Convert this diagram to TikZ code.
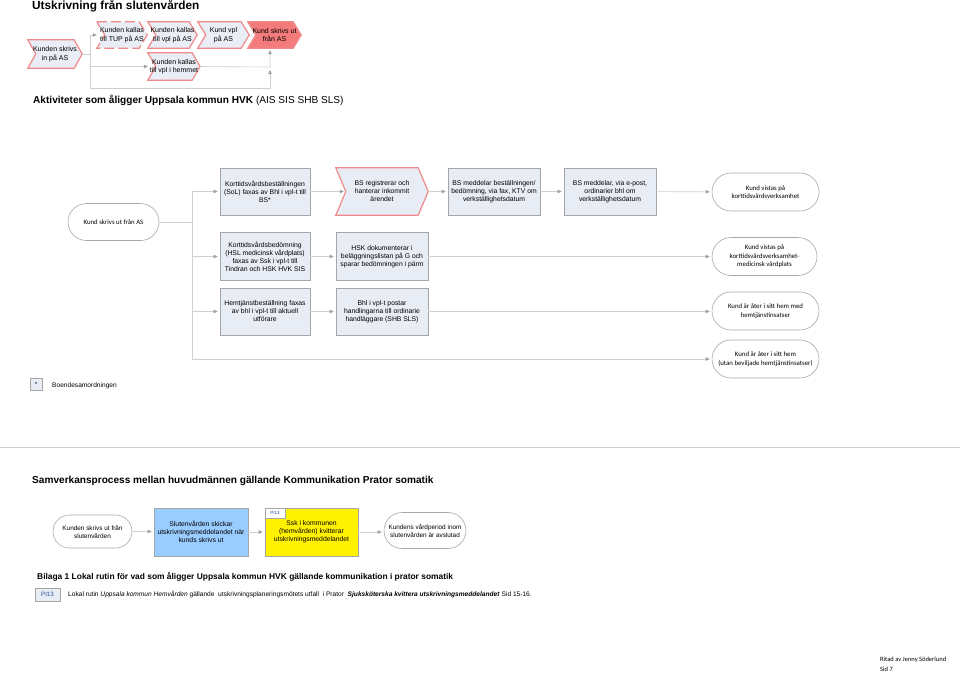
\documentclass[tikz,border=0pt]{standalone}
\usepackage{fontspec}
\setmainfont{Liberation Sans}
\newfontfamily\calfont{Carlito}
\usetikzlibrary{shapes.symbols,shapes.misc,arrows.meta,backgrounds}
\definecolor{boxfill}{HTML}{E8ECF5}
\definecolor{boxdraw}{HTML}{A6A6A6}
\definecolor{chevdraw}{HTML}{F08A8A}
\definecolor{chevfill}{HTML}{E9EDF5}
\definecolor{salmon}{HTML}{F47B7B}
\definecolor{conn}{HTML}{CFCFCF}
\definecolor{tipc}{HTML}{A0A0A0}
\definecolor{endraw}{HTML}{A8A8A8}
\definecolor{bluebox}{HTML}{99CCFF}
\definecolor{tagblue}{HTML}{2F4F9F}
\newcommand\chevbg[3]{%
  \begin{pgfonlayer}{background}
  \path[#3] (#1.north west) -- ([xshift=-#2]#1.north east) -- (#1.east) -- ([xshift=-#2]#1.south east)
    -- (#1.south west) -- ([xshift=#2]#1.west) -- cycle;
  \end{pgfonlayer}}
\tikzset{
  conline/.style={draw=conn, line width=0.6pt},
  flow/.style={conline, -{Triangle[length=4pt,width=3.5pt,color=tipc,fill=tipc]}, shorten >=2pt},
  pbox/.style={draw=boxdraw, fill=boxfill, line width=0.6pt, minimum width=90pt, minimum height=47pt,
    align=center, inner sep=1pt, font=\fontsize{6.8}{8}\selectfont},
  endnode/.style={rounded rectangle, draw=endraw, fill=white, line width=0.6pt, minimum width=109pt,
    minimum height=38pt, align=center, inner sep=1pt, font=\calfont\fontsize{6.8}{8.5}\selectfont},
  chevtext/.style={rectangle, minimum height=26pt, inner sep=0pt, align=center,
    font=\fontsize{7}{8.5}\selectfont},
  chevstyle/.style={draw=chevdraw, fill=chevfill, line width=1.2pt, line join=miter},
  heading/.style={anchor=west, inner sep=0pt, font=\bfseries\fontsize{10.1}{12}\selectfont}
}
\begin{document}
\begin{tikzpicture}[x=1pt,y=-1pt]
\useasboundingbox (0,0) rectangle (960,672);
% title
\node[anchor=west, inner sep=0pt, font=\bfseries\fontsize{11.8}{13}\selectfont] (title) at (32,6) {Utskrivning från slutenvården};
% top chevrons
\node[chevtext, minimum width=54pt, minimum height=28pt] (c1) at (55,54) {Kunden skrivs\\in på AS};
\node[chevtext, minimum width=50pt] (c2) at (122,35) {Kunden kallas\\till TUP på AS};
\node[chevtext, minimum width=49pt] (c3) at (172.5,35) {Kunden kallas\\till vpl på AS};
\node[chevtext, minimum width=51pt] (c4) at (223.5,35) {Kund vpl\\på AS};
\node[chevtext, minimum width=53pt] (c5) at (274.5,35) {Kund skrivs ut\\från AS};
\node[chevtext, minimum width=52pt, minimum height=27pt] (c6) at (174,66.5) {Kunden kallas\\till vpl i hemmet};
\chevbg{c1}{8pt}{chevstyle}
\chevbg{c2}{8pt}{chevstyle, dash pattern=on 10pt off 4pt}
\chevbg{c3}{8pt}{chevstyle}
\chevbg{c4}{8pt}{chevstyle}
\chevbg{c5}{8pt}{chevstyle, fill=salmon}
\chevbg{c6}{8pt}{chevstyle}
\coordinate (tj) at (90,54);
\coordinate (tjtop) at (90,35);
\coordinate (tjbot) at (90,88);
\coordinate (rbot) at (270,88);
\coordinate (rmid) at (270,67);
\coordinate (rarr) at (270,68);
\draw[conline] (c1.east) -- (tj);
\draw[conline] (tjtop) -- (tjbot);
\draw[flow] (tjtop) -- ([xshift=2pt]c2.west);
\draw[flow] (tjtop |- c6) -- ([xshift=2pt]c6.west);
\draw[flow] (c6.east) -- (rmid) -- (c5.south -| rmid);
\draw[flow] (tjbot) -- (rbot) -- (rarr);
% heading 1
\node[heading] (h1) at (33,100) {Aktiviteter som åligger Uppsala kommun HVK \mdseries(AIS SIS SHB SLS)};
% start node
\node[endnode, minimum width=93pt, minimum height=37pt] (start) at (113.5,222) {Kund skrivs ut från AS};
% row 1
\node[pbox] (b11) at (265,191.5) {Korttidsvårdsbeställningen\\(SoL) faxas av Bhl i vpl-t till\\BS*};
\node[rectangle, minimum width=92pt, minimum height=47pt, inner sep=0pt, align=center, font=\fontsize{6.8}{8}\selectfont] (b12) at (382,191.5) {BS registrerar och\\hanterar inkommit\\ärendet};
\chevbg{b12}{10pt}{chevstyle, fill=boxfill}
\node[pbox, minimum width=92pt] (b13) at (494,191.5) {BS meddelar beställningen/\\bedömning, via fax, KTV om\\verkställighetsdatum};
\node[pbox, minimum width=92pt] (b14) at (610,191.5) {BS meddelar, via e-post,\\ordinarier bhl om\\verkställighetsdatum};
\node[endnode] (e1) at (765.5,192) {Kund vistas på\\korttidsvårdsverksamhet};
% row 2
\node[pbox, minimum height=48pt] (b21) at (265,256.5) {Korttidsvårdsbedömning\\(HSL medicinsk vårdplats)\\faxas av Ssk i vpl-t till\\Tindran och HSK HVK SIS};
\node[pbox, minimum height=48pt, minimum width=92pt] (b22) at (382,256.5) {HSK dokumenterar i\\beläggningslistan på G och\\sparar bedömningen i pärm};
\node[endnode, minimum width=107pt] (e2) at (764.5,256.5) {Kund vistas på\\korttidsvårdsverksamhet-\\medicinsk vårdplats};
% row 3
\node[pbox] (b31) at (265,311.5) {Hemtjänstbeställning faxas\\av bhl i vpl-t till aktuell\\utförare};
\node[pbox, minimum width=92pt] (b32) at (382,311.5) {Bhl i vpl-t postar\\handlingarna till ordinarie\\handläggare (SHB SLS)};
\node[endnode] (e3) at (765.5,311) {Kund är åter i sitt hem med\\hemtjänstinsatser};
% row 4
\node[endnode] (e4) at (765.5,359) {Kund är åter i sitt hem\\(utan beviljade hemtjänstinsatser)};
% trunk
\coordinate (trtop) at (192,191.5);
\coordinate (trbot) at (192,359);
\draw[conline] (start.east) -- (start.east -| trtop);
\draw[conline] (trtop) -- (trbot);
\draw[flow] (trtop) -- (b11);
\draw[flow] (b11) -- ([xshift=10pt]b12.west);
\draw[flow] (b12.east) -- (b13);
\draw[flow] (b13) -- (b14);
\draw[flow] (b14) -- (e1);
\draw[flow] (trtop |- b21) -- (b21);
\draw[flow] (b21) -- (b22);
\draw[flow] (b22) -- (b22 -| e2.west);
\draw[flow] (trtop |- b31) -- (b31);
\draw[flow] (b31) -- (b32);
\draw[flow] (b32) -- (b32 -| e3.west);
\draw[flow] (trbot) -- (e4);
% legend
\node[draw=boxdraw, fill=boxfill, minimum width=12pt, minimum height=12pt, inner sep=0pt, font=\fontsize{6}{7}\selectfont] (leg) at (36,384) {*};
\node[anchor=west, inner sep=0pt, font=\fontsize{6.6}{7.5}\selectfont] (legt) at (52,386) {Boendesamordningen};
% separator
\coordinate (sepl) at (0,447);
\coordinate (sepr) at (960,447);
\draw[draw=conn, line width=0.8pt] (sepl) -- (sepr);
% heading 2
\node[heading] (h2) at (32,481) {Samverkansprocess mellan huvudmännen gällande Kommunikation Prator somatik};
% bottom flow
\node[rounded rectangle, draw=endraw, fill=white, line width=0.6pt, minimum width=81pt, minimum height=33pt, align=center,
  inner sep=1pt, font=\fontsize{6.4}{8}\selectfont] (s1) at (92.5,531.5) {Kunden skrivs ut från\\slutenvården};
\node[pbox, fill=bluebox, draw=boxdraw, minimum width=94pt, minimum height=48pt] (s2) at (201,532) {Slutenvården skickar\\utskrivningsmeddelandet när\\kunds skrivs ut};
\node[pbox, fill=yellow, draw=boxdraw, minimum width=93pt, minimum height=48pt] (s3) at (311.5,532) {Ssk i kommunen\\(hemvården) kvitterar\\utskrivningsmeddelandet};
\node[draw=boxdraw, fill=white, minimum width=20pt, minimum height=10pt, inner sep=0pt, anchor=north west,
  font=\fontsize{4.5}{5}\selectfont, text=tagblue] (tag) at (s3.north west) {PI13};
\node[rounded rectangle, draw=endraw, fill=white, line width=0.6pt, minimum width=84pt, minimum height=36pt, align=center,
  inner sep=1pt, font=\fontsize{6.4}{8}\selectfont] (s4) at (425,530.5) {Kundens vårdperiod inom\\slutenvården är avslutad};
\draw[flow] (s1) -- (s1 -| s2.west);
\draw[flow] (s2) -- (s2 -| s3.west);
\draw[flow] (s3) -- (s3 -| s4.west);
% heading 3
\node[heading, font=\bfseries\fontsize{8.4}{10}\selectfont] (h3) at (37,577) {Bilaga 1 Lokal rutin för vad som åligger Uppsala kommun HVK gällande kommunikation i prator somatik};
\node[draw=boxdraw, fill=boxfill, minimum width=25pt, minimum height=13pt, inner sep=0pt, font=\fontsize{6.2}{7}\selectfont,
  text=tagblue] (pi) at (47.5,594.5) {PI13};
\node[anchor=west, inner sep=0pt, font=\fontsize{6.6}{7.5}\selectfont] (pit) at (68,595) {Lokal rutin \textit{Uppsala kommun Hemvården} gällande\ \ utskrivningsplaneringsmötets utfall\ \ i Prator\ \ \textbf{\textit{Sjuksköterska kvittera utskrivningsmeddelandet}} Sid 15-16.};
% footer
\node[anchor=west, inner sep=0pt, font=\calfont\fontsize{6.5}{7}\selectfont] (f1) at (880,660) {Ritad av Jenny Söderlund};
\node[anchor=west, inner sep=0pt, font=\calfont\fontsize{6.5}{7}\selectfont] (f2) at (880,669) {Sid 7};
\end{tikzpicture}
\end{document}
